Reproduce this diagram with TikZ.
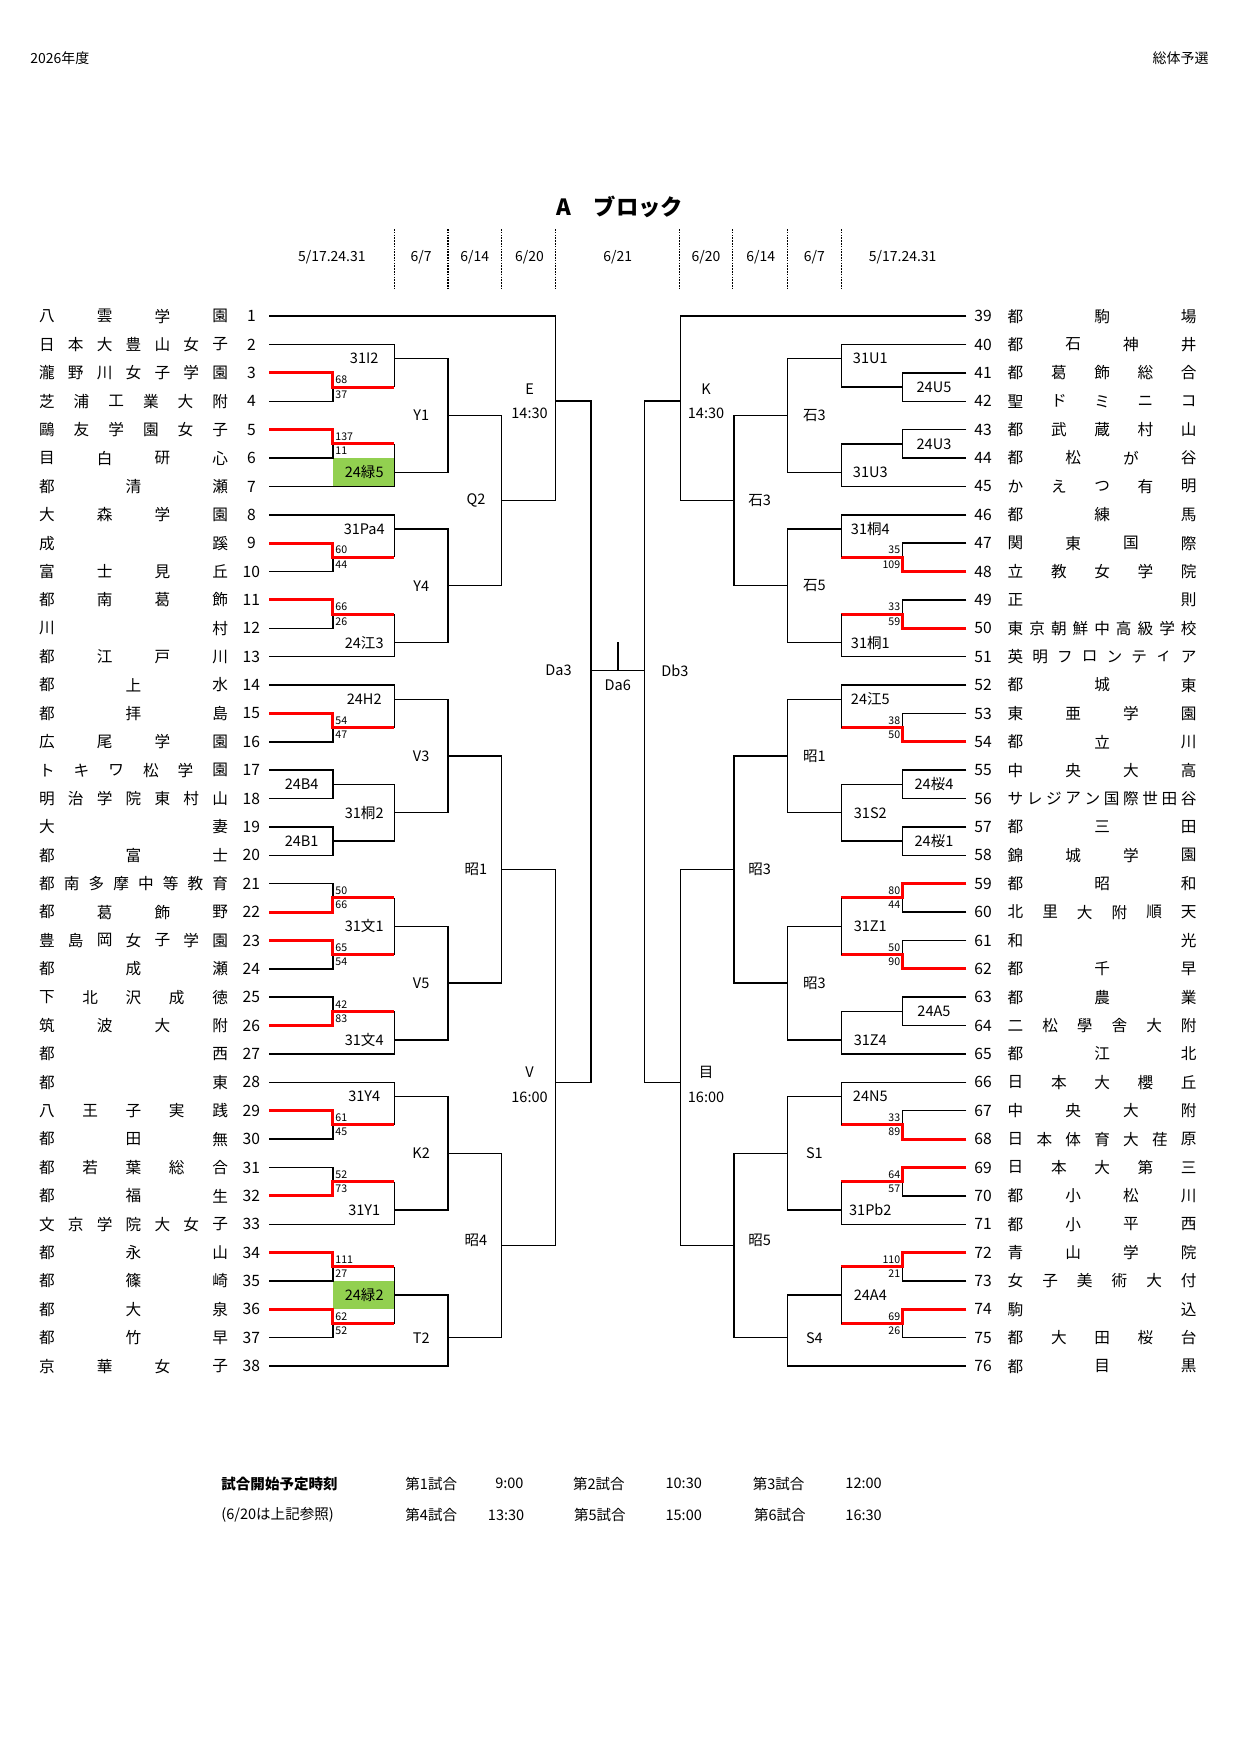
\documentclass[tikz,border=0pt]{standalone}
\usepackage{fontspec}
\setmainfont{Noto Sans CJK JP}
\definecolor{grn}{HTML}{92D050}
\tikzset{
 ln/.style={line width=1.3pt,black},
 win/.style={line width=2.6pt,red},
 nm/.style={inner sep=0pt,font=\fontsize{14}{14}\selectfont},
 lb/.style={inner sep=0pt,font=\fontsize{13}{13}\selectfont},
 sc/.style={inner sep=0pt,font=\fontsize{9.5}{9.5}\selectfont},
 hd/.style={inner sep=0pt,font=\fontsize{12.5}{12.5}\selectfont},
 dl/.style={line width=1pt,dash pattern=on 1.5pt off 1pt},
}
\newcommand\tname[4]{%
 \foreach \c [count=\i] in {#4}{\xdef\tnN{\i}}%
 \foreach \c [count=\i] in {#4}{\node[nm] at ({#1+(#2-#1)*(\i-1)/(\tnN-1)},{ry(#3)}) {\c};}}
\newcommand\tnL[2]{\tname{42}{197}{#1}{#2}}
\newcommand\tnR[2]{\tname{909}{1064}{#1}{#2}}
\newcommand\LT[3]{%
 \draw[ln] (241,{ry(#1+1)}) -- (298,{ry(#1+1)}) -- (298,{mm(#1)});
 \draw[win] (241,{ry(#1)}) -- (298,{ry(#1)}) -- (298,{mm(#1)}) -- (353,{mm(#1)});
 \node[sc,anchor=west] at (300,{mm(#1)-6.5}) {#2};
 \node[sc,anchor=west] at (300,{mm(#1)+6.5}) {#3};}
\newcommand\LB[3]{%
 \draw[ln] (241,{ry(#1)}) -- (298,{ry(#1)}) -- (298,{mm(#1)});
 \draw[win] (241,{ry(#1+1)}) -- (298,{ry(#1+1)}) -- (298,{mm(#1)}) -- (353,{mm(#1)});
 \node[sc,anchor=west] at (300,{mm(#1)-6.5}) {#2};
 \node[sc,anchor=west] at (300,{mm(#1)+6.5}) {#3};}
\newcommand\RT[3]{%
 \draw[ln] (865,{ry(#1+1)}) -- (808,{ry(#1+1)}) -- (808,{mm(#1)});
 \draw[win] (865,{ry(#1)}) -- (808,{ry(#1)}) -- (808,{mm(#1)}) -- (753,{mm(#1)});
 \node[sc,anchor=east] at (806,{mm(#1)-6.5}) {#2};
 \node[sc,anchor=east] at (806,{mm(#1)+6.5}) {#3};}
\newcommand\RB[3]{%
 \draw[ln] (865,{ry(#1)}) -- (808,{ry(#1)}) -- (808,{mm(#1)});
 \draw[win] (865,{ry(#1+1)}) -- (808,{ry(#1+1)}) -- (808,{mm(#1)}) -- (753,{mm(#1)});
 \node[sc,anchor=east] at (806,{mm(#1)-6.5}) {#2};
 \node[sc,anchor=east] at (806,{mm(#1)+6.5}) {#3};}
\newcommand\M[5]{\draw[ln] (#1,{#2}) -- (#5,{#2}) -- (#5,{#4}) -- (#3,{#4});}
\newcommand\Lb[3]{\node[lb] at (#1,{#2}) {#3};}
\begin{document}
\begin{tikzpicture}[x=1pt,y=-1pt,
 declare function={ry(\r)=283+(\r-1)*25.4; mm(\r)=295.7+(\r-1)*25.4;}]
\useasboundingbox (0,0) rectangle (1110,1570);
\node[hd,anchor=west] (yr) at (27,52) {2026年度};
\node[hd,anchor=east] (ty) at (1082,52) {総体予選};
\node[inner sep=0pt,font=\fontsize{20}{20}\selectfont\bfseries] (title) at (555,185) {A　ブロック};
% header
\node[hd] at (297,230) {5/17.24.31};
\node[hd] at (377,230) {6/7};
\node[hd] at (425,230) {6/14};
\node[hd] at (474,230) {6/20};
\node[hd] at (553,230) {6/21};
\node[hd] at (632,230) {6/20};
\node[hd] at (681,230) {6/14};
\node[hd] at (729,230) {6/7};
\node[hd] at (808,230) {5/17.24.31};
\foreach \x in {353,401,449,497,608,656,705,753} \draw[dl] (\x,205) -- (\x,258);
% numbers
\foreach \i in {1,...,38} \node[nm] at (225,{ry(\i)}) {\i};
\foreach \i in {39,...,76} \node[nm] at (880,{ry(\i-38)}) {\i};
% left names
\tnL{1}{八,雲,学,園}
\tnL{2}{日,本,大,豊,山,女,子}
\tnL{3}{瀧,野,川,女,子,学,園}
\tnL{4}{芝,浦,工,業,大,附}
\tnL{5}{鷗,友,学,園,女,子}
\tnL{6}{目,白,研,心}
\tnL{7}{都,清,瀬}
\tnL{8}{大,森,学,園}
\tnL{9}{成,蹊}
\tnL{10}{富,士,見,丘}
\tnL{11}{都,南,葛,飾}
\tnL{12}{川,村}
\tnL{13}{都,江,戸,川}
\tnL{14}{都,上,水}
\tnL{15}{都,拝,島}
\tnL{16}{広,尾,学,園}
\tnL{17}{ト,キ,ワ,松,学,園}
\tnL{18}{明,治,学,院,東,村,山}
\tnL{19}{大,妻}
\tnL{20}{都,富,士}
\tnL{21}{都,南,多,摩,中,等,教,育}
\tnL{22}{都,葛,飾,野}
\tnL{23}{豊,島,岡,女,子,学,園}
\tnL{24}{都,成,瀬}
\tnL{25}{下,北,沢,成,徳}
\tnL{26}{筑,波,大,附}
\tnL{27}{都,西}
\tnL{28}{都,東}
\tnL{29}{八,王,子,実,践}
\tnL{30}{都,田,無}
\tnL{31}{都,若,葉,総,合}
\tnL{32}{都,福,生}
\tnL{33}{文,京,学,院,大,女,子}
\tnL{34}{都,永,山}
\tnL{35}{都,篠,崎}
\tnL{36}{都,大,泉}
\tnL{37}{都,竹,早}
\tnL{38}{京,華,女,子}
% right names
\tnR{1}{都,駒,場}
\tnR{2}{都,石,神,井}
\tnR{3}{都,葛,飾,総,合}
\tnR{4}{聖,ド,ミ,ニ,コ}
\tnR{5}{都,武,蔵,村,山}
\tnR{6}{都,松,が,谷}
\tnR{7}{か,え,つ,有,明}
\tnR{8}{都,練,馬}
\tnR{9}{関,東,国,際}
\tnR{10}{立,教,女,学,院}
\tnR{11}{正,則}
\tnR{12}{東,京,朝,鮮,中,高,級,学,校}
\tnR{13}{英,明,フ,ロ,ン,テ,ィ,ア}
\tnR{14}{都,城,東}
\tnR{15}{東,亜,学,園}
\tnR{16}{都,立,川}
\tnR{17}{中,央,大,高}
\tnR{18}{サ,レ,ジ,ア,ン,国,際,世,田,谷}
\tnR{19}{都,三,田}
\tnR{20}{錦,城,学,園}
\tnR{21}{都,昭,和}
\tnR{22}{北,里,大,附,順,天}
\tnR{23}{和,光}
\tnR{24}{都,千,早}
\tnR{25}{都,農,業}
\tnR{26}{二,松,學,舎,大,附}
\tnR{27}{都,江,北}
\tnR{28}{日,本,大,櫻,丘}
\tnR{29}{中,央,大,附}
\tnR{30}{日,本,体,育,大,荏,原}
\tnR{31}{日,本,大,第,三}
\tnR{32}{都,小,松,川}
\tnR{33}{都,小,平,西}
\tnR{34}{青,山,学,院}
\tnR{35}{女,子,美,術,大,付}
\tnR{36}{駒,込}
\tnR{37}{都,大,田,桜,台}
\tnR{38}{都,目,黒}
% green boxes
\fill[grn] (298,{ry(6)}) rectangle (353,{ry(7)});
\fill[grn] (298,{ry(35)}) rectangle (353,{ry(36)});
% ===== left bracket =====
\LT{3}{68}{37}
\M{241}{ry(2)}{353}{mm(3)}{353} \Lb{326}{mm(2)}{31I2}
\LT{5}{137}{11}
\M{353}{mm(5)}{241}{ry(7)}{353} \Lb{326}{mm(6)}{24緑5}
\M{353}{mm(2)}{353}{mm(6)}{401} \Lb{377}{mm(4)}{Y1}
\LT{9}{60}{44}
\M{241}{ry(8)}{353}{mm(9)}{353} \Lb{326}{mm(8)}{31Pa4}
\LT{11}{66}{26}
\M{353}{mm(11)}{241}{ry(13)}{353} \Lb{326}{mm(12)}{24江3}
\M{353}{mm(8)}{353}{mm(12)}{401} \Lb{377}{mm(10)}{Y4}
\M{401}{mm(4)}{401}{mm(10)}{449} \Lb{426}{mm(7)}{Q2}
\M{241}{ry(1)}{449}{mm(7)}{497} \Lb{474}{348}{E} \Lb{474}{370}{14:30}
\LT{15}{54}{47}
\M{241}{ry(14)}{353}{mm(15)}{353} \Lb{326}{mm(14)}{24H2}
\M{241}{ry(17)}{241}{ry(18)}{298} \Lb{270}{mm(17)}{24B4}
\M{241}{ry(19)}{241}{ry(20)}{298} \Lb{270}{mm(19)}{24B1}
\M{298}{mm(17)}{298}{mm(19)}{353} \Lb{326}{mm(18)}{31桐2}
\M{353}{mm(14)}{353}{mm(18)}{401} \Lb{377}{mm(16)}{V3}
\LB{21}{50}{66}
\LT{23}{65}{54}
\M{353}{mm(21)}{353}{mm(23)}{353} \Lb{326}{mm(22)}{31文1}
\LB{25}{42}{83}
\M{353}{mm(25)}{241}{ry(27)}{353} \Lb{326}{mm(26)}{31文4}
\M{353}{mm(22)}{353}{mm(26)}{401} \Lb{377}{mm(24)}{V5}
\M{401}{mm(16)}{401}{mm(24)}{449} \Lb{426}{mm(20)}{昭1}
\LT{29}{61}{45}
\M{241}{ry(28)}{353}{mm(29)}{353} \Lb{326}{mm(28)}{31Y4}
\LB{31}{52}{73}
\M{353}{mm(31)}{241}{ry(33)}{353} \Lb{326}{mm(32)}{31Y1}
\M{353}{mm(28)}{353}{mm(32)}{401} \Lb{377}{mm(30)}{K2}
\LT{34}{111}{27}
\LT{36}{62}{52}
\M{353}{mm(34)}{353}{mm(36)}{353} \Lb{326}{mm(35)}{24緑2}
\M{353}{mm(35)}{241}{ry(38)}{401} \Lb{377}{ry(37)}{T2}
\M{401}{mm(30)}{401}{ry(37)}{449} \Lb{426}{1110}{昭4}
\M{449}{mm(20)}{449}{1115}{497} \Lb{474}{960}{V} \Lb{474}{982}{16:00}
\M{497}{359}{497}{969}{529} \Lb{500}{600}{Da3}
% ===== right bracket =====
\M{865}{ry(3)}{865}{ry(4)}{808} \Lb{836}{mm(3)}{24U5}
\M{865}{ry(2)}{808}{mm(3)}{753} \Lb{779}{mm(2)}{31U1}
\M{865}{ry(5)}{865}{ry(6)}{808} \Lb{836}{mm(5)}{24U3}
\M{808}{mm(5)}{865}{ry(7)}{753} \Lb{779}{mm(6)}{31U3}
\M{753}{mm(2)}{753}{mm(6)}{705} \Lb{729}{mm(4)}{石3}
\RB{9}{35}{109}
\M{865}{ry(8)}{753}{mm(9)}{753} \Lb{779}{mm(8)}{31桐4}
\RB{11}{33}{59}
\M{753}{mm(11)}{865}{ry(13)}{753} \Lb{779}{mm(12)}{31桐1}
\M{753}{mm(8)}{753}{mm(12)}{705} \Lb{729}{mm(10)}{石5}
\M{705}{mm(4)}{705}{mm(10)}{657} \Lb{680}{mm(7)}{石3}
\M{865}{ry(1)}{657}{mm(7)}{609} \Lb{632}{348}{K} \Lb{632}{370}{14:30}
\RB{15}{38}{50}
\M{865}{ry(14)}{753}{mm(15)}{753} \Lb{779}{mm(14)}{24江5}
\M{865}{ry(17)}{865}{ry(18)}{808} \Lb{836}{mm(17)}{24桜4}
\M{865}{ry(19)}{865}{ry(20)}{808} \Lb{836}{mm(19)}{24桜1}
\M{808}{mm(17)}{808}{mm(19)}{753} \Lb{779}{mm(18)}{31S2}
\M{753}{mm(14)}{753}{mm(18)}{705} \Lb{729}{mm(16)}{昭1}
\RT{21}{80}{44}
\RB{23}{50}{90}
\M{753}{mm(21)}{753}{mm(23)}{753} \Lb{779}{mm(22)}{31Z1}
\M{865}{ry(25)}{865}{ry(26)}{808} \Lb{836}{mm(25)}{24A5}
\M{808}{mm(25)}{865}{ry(27)}{753} \Lb{779}{mm(26)}{31Z4}
\M{753}{mm(22)}{753}{mm(26)}{705} \Lb{729}{mm(24)}{昭3}
\M{705}{mm(16)}{705}{mm(24)}{657} \Lb{680}{mm(20)}{昭3}
\RB{29}{33}{89}
\M{865}{ry(28)}{753}{mm(29)}{753} \Lb{779}{mm(28)}{24N5}
\RT{31}{64}{57}
\M{753}{mm(31)}{865}{ry(33)}{753} \Lb{779}{mm(32)}{31Pb2}
\M{753}{mm(28)}{753}{mm(32)}{705} \Lb{729}{mm(30)}{S1}
\RT{34}{110}{21}
\RT{36}{69}{26}
\M{753}{mm(34)}{753}{mm(36)}{753} \Lb{779}{mm(35)}{24A4}
\M{753}{mm(35)}{865}{ry(38)}{705} \Lb{729}{ry(37)}{S4}
\M{705}{mm(30)}{705}{ry(37)}{657} \Lb{680}{1110}{昭5}
\M{657}{mm(20)}{657}{1115}{609} \Lb{632}{960}{目} \Lb{632}{982}{16:00}
\M{609}{359}{609}{969}{577} \Lb{604}{600}{Db3}
% final
\draw[ln] (529,600) -- (577,600);
\draw[ln] (553,600) -- (553,575);
\Lb{553}{613}{Da6}
% footer
\node[lb,anchor=west,font=\fontsize{13}{13}\selectfont\bfseries] (ft1) at (198,1328) {試合開始予定時刻};
\node[lb,anchor=west] (ft2) at (198,1356) {(6/20は上記参照)};
\node[lb] at (386,1328) {第1試合}; \node[lb] at (456,1328) {9:00};
\node[lb] at (536,1328) {第2試合}; \node[lb] at (612,1328) {10:30};
\node[lb] at (697,1328) {第3試合}; \node[lb] at (773,1328) {12:00};
\node[lb] at (386,1356) {第4試合}; \node[lb] at (453,1356) {13:30};
\node[lb] at (537,1356) {第5試合}; \node[lb] at (612,1356) {15:00};
\node[lb] at (698,1356) {第6試合}; \node[lb] at (773,1356) {16:30};
\end{tikzpicture}
\end{document}
